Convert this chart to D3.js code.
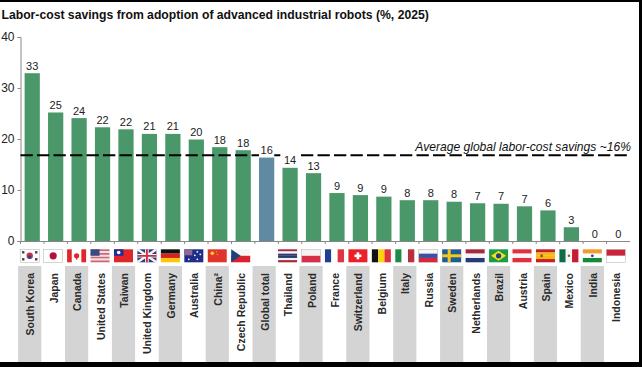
<!DOCTYPE html>
<html>
<head>
<meta charset="utf-8">
<script src="https://cdn.jsdelivr.net/npm/d3@7"></script>
<style>
html, body { margin: 0; padding: 0; background: #fff; overflow: hidden; }
text { font-family: "Liberation Sans", Arial, sans-serif; }
</style>
</head>
<body>
<div id="chart"></div>
<script>
var countries = ["South Korea", "Japan", "Canada", "United States", "Taiwan", "United Kingdom", "Germany",
    "Australia", "China²", "Czech Republic", "Global total", "Thailand", "Poland", "France", "Switzerland",
    "Belgium", "Italy", "Russia", "Sweden", "Netherlands", "Brazil", "Austria", "Spain", "Mexico", "India", "Indonesia"];
var savings = [32.9, 25.2, 24.1, 22.3, 21.9, 21, 21, 19.9, 18.4, 17.8, 16.4, 14.4, 13.3,
    9.4, 9, 8.7, 8, 8, 7.7, 7.4, 7.3, 6.8, 6, 2.7, 0, 0];
var yTicks = [0, 10, 20, 30, 40];
var averageSavings = 16.8;
var titleText = "Labor-cost savings from adoption of advanced industrial robots (%, 2025)";
var averageText = "Average global labor-cost savings ~16%";

var width = 642, height = 367;
var plot = {left: 20.5, right: 630, top: 37, bottom: 241};

var svg = d3.select("#chart").append("svg")
    .attr("width", width)
    .attr("height", height)
    .style("display", "block");

var x = d3.scaleBand().domain(countries).range([plot.left, plot.right]).paddingInner(0.35).paddingOuter(0.175);
var y = d3.scaleLinear().domain([0, 40]).range([plot.bottom, plot.top]);
var rowShift = -2.5; // flags and names sit a little left of the bars
var rowCenter = function(d) { return x(d) + x.bandwidth() / 2 + rowShift; };

// stripes behind every other country name
svg.selectAll("rect.stripe")
    .data(countries.filter(function(d, i) { return i % 2 == 0; }))
    .enter().append("rect")
    .attr("class", "stripe")
    .attr("x", function(d) { return rowCenter(d) - 11.6; })
    .attr("y", 266)
    .attr("width", 23.2)
    .attr("height", 96)
    .attr("fill", "#d4d4d4");

svg.selectAll("rect.bar")
    .data(countries)
    .enter().append("rect")
    .attr("class", "bar")
    .attr("x", function(d) { return x(d); })
    .attr("y", function(d, i) { return y(savings[i]); })
    .attr("width", x.bandwidth())
    .attr("height", function(d, i) { return y(0) - y(savings[i]); })
    .attr("fill", function(d) { return d == "Global total" ? "#5f8aa2" : "#4a9869"; });

// axes
var yAxis = svg.append("g")
    .attr("transform", "translate(" + plot.left + ",0)")
    .call(d3.axisLeft(y).tickValues(yTicks).tickSize(3).tickPadding(3).tickFormat(d3.format("d")));
yAxis.select(".domain").attr("stroke", "#888");
yAxis.selectAll("line").attr("stroke", "#888");
yAxis.selectAll("text").attr("font-size", 12).attr("fill", "#222").style("font-family", "'Liberation Sans'");

svg.append("line")
    .attr("x1", plot.left).attr("x2", plot.right)
    .attr("y1", y(0) + 0.5).attr("y2", y(0) + 0.5)
    .attr("stroke", "#888");
svg.selectAll("line.xtick")
    .data(countries)
    .enter().append("line")
    .attr("class", "xtick")
    .attr("x1", function(d) { return x(d) - x.step() * 0.175; })
    .attr("x2", function(d) { return x(d) - x.step() * 0.175; })
    .attr("y1", y(0))
    .attr("y2", y(0) + 3)
    .attr("stroke", "#888");

// average line
svg.append("line")
    .attr("x1", plot.left).attr("x2", 630)
    .attr("y1", y(averageSavings)).attr("y2", y(averageSavings))
    .attr("stroke", "#000")
    .attr("stroke-width", 2)
    .attr("stroke-dasharray", "12.3,4.2");

svg.append("text")
    .attr("x", 631).attr("y", 151)
    .attr("text-anchor", "end")
    .attr("font-size", 12.1)
    .attr("font-style", "italic")
    .attr("fill", "#111")
    .text(averageText);

// labels that sit on the average line knock it out
svg.selectAll("rect.labelbox")
    .data(countries.filter(function(d) {
        var top = y(savings[countries.indexOf(d)]);
        return top - 15 <= y(averageSavings) && y(averageSavings) <= top;
    }))
    .enter().append("rect")
    .attr("class", "labelbox")
    .attr("x", function(d) { return x(d); })
    .attr("y", function(d) { return y(savings[countries.indexOf(d)]) - 15; })
    .attr("width", x.bandwidth())
    .attr("height", 15)
    .attr("fill", "#fff");

// value labels
svg.selectAll("text.value")
    .data(countries)
    .enter().append("text")
    .attr("class", "value")
    .attr("x", function(d) { return x(d) + x.bandwidth() / 2; })
    .attr("y", function(d, i) { return y(savings[i]) - 3.5; })
    .attr("text-anchor", "middle")
    .attr("font-size", 11)
    .attr("fill", "#222")
    .text(function(d, i) { return d3.format(".0f")(savings[i]); });

// country names
svg.selectAll("text.name")
    .data(countries)
    .enter().append("text")
    .attr("class", "name")
    .attr("transform", function(d) { return "translate(" + (rowCenter(d) + 4.5) + ",273) rotate(-90)"; })
    .attr("text-anchor", "end")
    .attr("font-size", 10.5)
    .attr("font-weight", "bold")
    .attr("fill", "#2a2a2a")
    .text(function(d) { return d; });

// flags, each drawn in a 19 by 13 box
var fw = 19, fh = 13;
function box(g, a, b, w, h, c) {
    g.append("rect").attr("x", a).attr("y", b).attr("width", w).attr("height", h).attr("fill", c);
}
function hbars(g, cols) {
    cols.forEach(function(c, i) { box(g, 0, i * fh / cols.length, fw, fh / cols.length, c); });
}
function vbars(g, cols) {
    cols.forEach(function(c, i) { box(g, i * fw / cols.length, 0, fw / cols.length, fh, c); });
}
function dot(g, a, b, r, c) {
    g.append("circle").attr("cx", a).attr("cy", b).attr("r", r).attr("fill", c);
}
function outline(g) {
    g.append("rect").attr("x", 0).attr("y", 0).attr("width", fw).attr("height", fh)
        .attr("fill", "none").attr("stroke", "#bbb").attr("stroke-width", 0.6);
}
var flagPainters = {
    "South Korea": function(g) {
        box(g, 0, 0, fw, fh, "#fff"); dot(g, 9.5, 6.5, 3.2, "#c8304a"); dot(g, 9.5, 7.8, 1.8, "#24478f");
        [[3, 3], [16, 3], [3, 10], [16, 10]].forEach(function(p) { box(g, p[0] - 1.2, p[1] - 1.2, 2.4, 2.4, "#444"); });
        outline(g);
    },
    "Japan": function(g) { box(g, 0, 0, fw, fh, "#fff"); dot(g, 9.5, 6.5, 3.6, "#b5123a"); outline(g); },
    "Canada": function(g) { vbars(g, ["#e0252b", "#fff", "#fff", "#e0252b"]); dot(g, 9.5, 6.5, 2.6, "#e0252b"); box(g, 9, 8, 1, 2.4, "#e0252b"); },
    "United States": function(g) {
        hbars(g, ["#c96a78", "#f3dfe2", "#c96a78", "#f3dfe2", "#c96a78", "#f3dfe2", "#c96a78"]);
        box(g, 0, 0, 9, 6.5, "#3a4a80");
    },
    "Taiwan": function(g) { box(g, 0, 0, fw, fh, "#e0252b"); box(g, 0, 0, 9.5, 6.5, "#1f2f95"); dot(g, 4.7, 3.2, 1.8, "#fff"); },
    "United Kingdom": function(g) {
        box(g, 0, 0, fw, fh, "#2e3f80");
        g.append("path").attr("d", "M0,0L19,13M19,0L0,13").attr("stroke", "#f4f4f4").attr("stroke-width", 2.4);
        g.append("path").attr("d", "M9.5,0V13M0,6.5H19").attr("stroke", "#f4f4f4").attr("stroke-width", 3.6);
        g.append("path").attr("d", "M9.5,0V13M0,6.5H19").attr("stroke", "#cf2d40").attr("stroke-width", 1.8);
    },
    "Germany": function(g) { hbars(g, ["#111", "#d8201f", "#fbc70a"]); },
    "Australia": function(g) {
        box(g, 0, 0, fw, fh, "#1f2d86"); box(g, 0, 0, 8, 6, "#8c6a96");
        [[13, 2.5], [16, 5], [13, 10], [10.5, 6], [4.5, 10]].forEach(function(p) { dot(g, p[0], p[1], 0.9, "#fff"); });
    },
    "China²": function(g) { box(g, 0, 0, fw, fh, "#e0352b"); dot(g, 4.5, 4, 1.8, "#f6d32a"); dot(g, 8.5, 2.5, 0.6, "#f6d32a"); dot(g, 9.5, 5, 0.6, "#f6d32a"); },
    "Czech Republic": function(g) {
        hbars(g, ["#f5f5f5", "#d8232f"]);
        g.append("path").attr("d", "M0,0L9.5,6.5L0,13Z").attr("fill", "#20407c");
    },
    "Thailand": function(g) { hbars(g, ["#a5283c", "#f4f4f4", "#2d3a70", "#2d3a70", "#f4f4f4", "#a5283c"]); },
    "Poland": function(g) { hbars(g, ["#f4f4f4", "#d9304a"]); outline(g); },
    "France": function(g) { vbars(g, ["#1f3f94", "#fff", "#dd3540"]); },
    "Switzerland": function(g) { box(g, 0, 0, fw, fh, "#ec2028"); box(g, 8.2, 3, 2.6, 7, "#fff"); box(g, 6, 5.2, 7, 2.6, "#fff"); },
    "Belgium": function(g) { vbars(g, ["#111", "#fcd20f", "#e0303a"]); },
    "Italy": function(g) { vbars(g, ["#1b8a4a", "#fff", "#b92f3c"]); },
    "Russia": function(g) { hbars(g, ["#f6f6f6", "#3a4fa8", "#d9263a"]); outline(g); },
    "Sweden": function(g) { box(g, 0, 0, fw, fh, "#1f5c96"); box(g, 5.5, 0, 3, fh, "#f2c81e"); box(g, 0, 5, fw, 3, "#f2c81e"); },
    "Netherlands": function(g) { hbars(g, ["#a5283c", "#f4f4f4", "#253a78"]); },
    "Brazil": function(g) {
        box(g, 0, 0, fw, fh, "#1f9a45");
        g.append("path").attr("d", "M9.5,1.5L17,6.5L9.5,11.5L2,6.5Z").attr("fill", "#f6de1e");
        dot(g, 9.5, 6.5, 2.6, "#24407f");
    },
    "Austria": function(g) { hbars(g, ["#e0303f", "#f6f6f6", "#e0303f"]); },
    "Spain": function(g) { hbars(g, ["#c4202b", "#f7b90f", "#f7b90f", "#c4202b"]); box(g, 4.5, 5.2, 2.4, 2.6, "#a8401f"); },
    "Mexico": function(g) { vbars(g, ["#0d6b48", "#f6f6f6", "#c51d35"]); dot(g, 9.5, 6.5, 1.2, "#7a5a3a"); },
    "India": function(g) { hbars(g, ["#f39a33", "#fff", "#178a3a"]); dot(g, 9.5, 6.5, 1.4, "#30408a"); },
    "Indonesia": function(g) { hbars(g, ["#c9243a", "#fff"]); outline(g); }
};

countries.forEach(function(name) {
    if (!flagPainters[name]) { return; }
    var g = svg.append("g")
        .attr("class", "flag")
        .attr("transform", "translate(" + (rowCenter(name) - fw / 2) + ",249.3)");
    flagPainters[name](g);
});

// title
svg.append("text")
    .attr("x", 1.5).attr("y", 19)
    .attr("font-size", 12.2)
    .attr("font-weight", "bold")
    .attr("fill", "#111")
    .text(titleText);

// black edges of the picture
svg.append("rect").attr("x", 0).attr("y", 0).attr("width", width).attr("height", 2).attr("fill", "#000");
svg.append("rect").attr("x", 639).attr("y", 0).attr("width", 3).attr("height", height).attr("fill", "#000");
svg.append("rect").attr("x", 0).attr("y", 362).attr("width", width).attr("height", 5).attr("fill", "#000");
</script>
</body>
</html>
